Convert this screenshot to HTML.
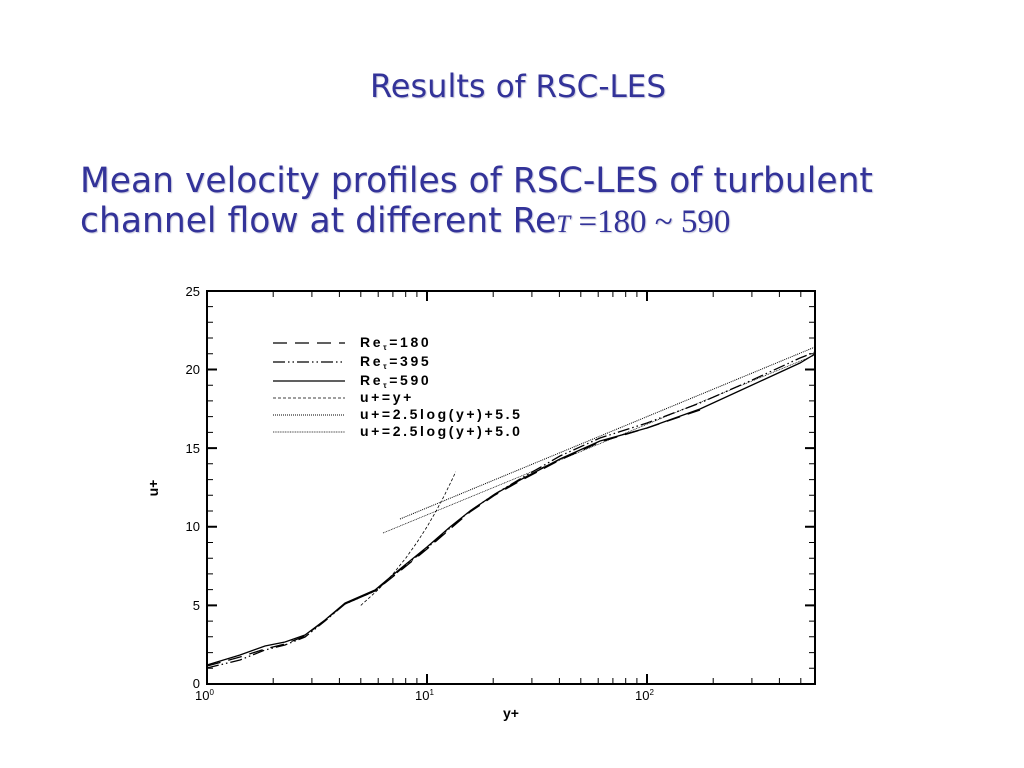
<!DOCTYPE html>
<html><head><meta charset="utf-8"><style>
body{margin:0;width:1024px;height:768px;background:#fff;overflow:hidden;position:relative;font-family:"DejaVu Sans","Liberation Sans",sans-serif;}
.t{position:absolute;color:#333399;text-shadow:1px 1px 1px #c8c8dc;white-space:nowrap;}
</style></head><body>
<div class="t" style="left:370px;top:67px;font-size:32px;">Results <span style="font-size:31px">of RSC-LES</span></div>
<div class="t" style="left:80px;top:161px;font-size:34.5px;line-height:40px;">Mean velocity profiles of RSC-LES of turbulent<br>channel flow at different Re<span style="font-family:'Liberation Serif',serif;font-style:italic;font-size:25px">T</span><span style="font-family:'Liberation Serif',serif;font-size:33px"> =180 ~ 590</span></div>
<svg width="1024" height="768" style="position:absolute;left:0;top:0" xmlns="http://www.w3.org/2000/svg" font-family="Liberation Sans, Arial, sans-serif">
<g stroke="#000" stroke-width="1">
<path d="M273.2 684v-6M311.9 684v-6M339.4 684v-6M360.8 684v-6M378.2 684v-6M392.9 684v-6M405.7 684v-6M416.9 684v-6M493.2 684v-6M531.9 684v-6M559.4 684v-6M580.8 684v-6M598.2 684v-6M612.9 684v-6M625.7 684v-6M636.9 684v-6M713.2 684v-6M751.9 684v-6M779.4 684v-6M800.8 684v-6
M273.2 291v6M311.9 291v6M339.4 291v6M360.8 291v6M378.2 291v6M392.9 291v6M405.7 291v6M416.9 291v6M493.2 291v6M531.9 291v6M559.4 291v6M580.8 291v6M598.2 291v6M612.9 291v6M625.7 291v6M636.9 291v6M713.2 291v6M751.9 291v6M779.4 291v6M800.8 291v6"/>
<path stroke-width="2" d="M427 684v-10M647 684v-10M427 291v10M647 291v10"/>
<path d="M207 668.3h6M207 652.6h6M207 636.8h6M207 621.1h6M207 589.6h6M207 573.9h6M207 558.2h6M207 542.5h6M207 511h6M207 495.3h6M207 479.6h6M207 463.8h6M207 432.4h6M207 416.6h6M207 400.9h6M207 385.2h6M207 353.7h6M207 338h6M207 322.3h6M207 306.6h6
M815 668.3h-6M815 652.6h-6M815 636.8h-6M815 621.1h-6M815 589.6h-6M815 573.9h-6M815 558.2h-6M815 542.5h-6M815 511h-6M815 495.3h-6M815 479.6h-6M815 463.8h-6M815 432.4h-6M815 416.6h-6M815 400.9h-6M815 385.2h-6M815 353.7h-6M815 338h-6M815 322.3h-6M815 306.6h-6"/>
<path stroke-width="2" d="M207 605.4h10M207 526.8h10M207 448.1h10M207 369.5h10M815 605.4h-10M815 526.8h-10M815 448.1h-10M815 369.5h-10"/>
<rect x="207" y="291" width="608" height="393" fill="none" stroke-width="2"/>
</g>
<g font-size="13" text-anchor="end">
<text x="200" y="296">25</text><text x="200" y="374">20</text><text x="200" y="453">15</text><text x="200" y="531">10</text><text x="200" y="610">5</text><text x="200" y="688">0</text>
</g>
<g font-size="13">
<text x="195" y="700">10<tspan font-size="8" dy="-5">0</tspan></text>
<text x="415" y="700">10<tspan font-size="8" dy="-5">1</tspan></text>
<text x="635" y="700">10<tspan font-size="8" dy="-5">2</tspan></text>
</g>
<text x="511" y="718" font-size="14" font-weight="bold" text-anchor="middle">y+</text>
<text x="158" y="488" font-size="14" font-weight="bold" text-anchor="middle" transform="rotate(-90 158 488)">u+</text>
<g stroke="#000" fill="none">
<path d="M273 343h72" stroke-dasharray="14,8" stroke-width="1.3"/>
<path d="M273 362h72" stroke-dasharray="12,3,1.5,3,1.5,3" stroke-width="1.3"/>
<path d="M273 381h72" stroke-width="1.3"/>
<path d="M273 398h72" stroke-dasharray="3,2" stroke-width="0.8"/>
<path d="M273 415h72" stroke-dasharray="1,1" stroke-width="0.9"/>
<path d="M273 432h72" stroke-dasharray="1,0.7" stroke-width="0.7"/>
</g>
<g font-size="14" font-weight="bold" letter-spacing="2.6">
<text x="360" y="347">Re<tspan font-size="8" dy="3">τ</tspan><tspan dy="-3">=180</tspan></text>
<text x="360" y="366">Re<tspan font-size="8" dy="3">τ</tspan><tspan dy="-3">=395</tspan></text>
<text x="360" y="385">Re<tspan font-size="8" dy="3">τ</tspan><tspan dy="-3">=590</tspan></text>
<text x="360" y="402">u+=y+</text>
<text x="360" y="419">u+=2.5log(y+)+5.5</text>
<text x="360" y="436">u+=2.5log(y+)+5.0</text>
</g>
<g fill="none" stroke="#000">
<path d="M360.8 605.4 L378.2 589.7 L392.9 574 L405.7 558.2 L416.9 542.5 L427 526.8 L436.1 511.1 L444.4 495.4 L452.1 479.6 L455.7 471.8" stroke-dasharray="3,2" stroke-width="0.8"/>
<path d="M400 519 L815 347" stroke-dasharray="1,1" stroke-width="1"/>
<path d="M383 533 L815 355" stroke-dasharray="1,0.7" stroke-width="0.7"/>
<path d="M207 665 L240 655 L265 646 L285 642 L305 635 L325 620 L345 603 L375 590 L400 569 L427 547 L450 527 L470 511 L495 494 L520 480 L560 459 L600 441 L647 428 L700 409 L750 386 L800 363 L815 354" stroke-width="1.3"/>
<path d="M207 668 L240 660 L265 650 L285 645 L305 637 L325 621 L345 604 L375 591 L400 570 L427 548 L450 528 L470 511 L495 494 L520 479 L560 456 L600 438 L647 423 L700 403 L750 381 L800 358 L815 352" stroke-dasharray="12,3,1.5,3,1.5,3" stroke-width="1.3"/>
<path d="M207 666 L240 657 L265 649 L285 644 L305 636 L325 620 L345 604 L375 591 L400 571 L427 549 L450 529 L470 512 L495 495 L520 481 L560 460 L600 442 L647 428 L700 410" stroke-dasharray="14,8" stroke-width="1.3"/>
</g>
</svg>
</body></html>
